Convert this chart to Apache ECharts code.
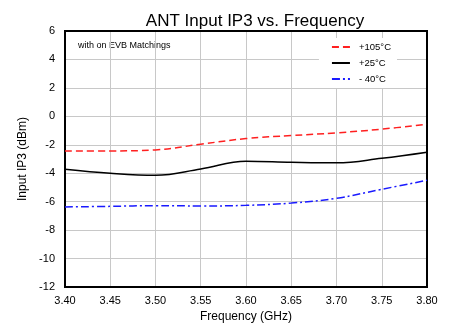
<!DOCTYPE html>
<html lang="en">
<head>
    <meta charset="UTF-8">
    <title>ANT Input IP3 vs. Frequency</title>
    <script type="text/javascript" src="https://cdn.jsdelivr.net/npm/echarts@6/dist/echarts.min.js"></script>
    <style>
        body{
            padding: 0px;
            margin: 0px;
            background-color: #ffffff;
        }
        #chart{
            width: 453px;
            height: 328px;
        }
    </style>
</head>
<body>
    <div id="chart"></div>
    <script>
    // frequency points (GHz)
    var freq = [3.40, 3.45, 3.50, 3.55, 3.60, 3.65, 3.70, 3.75, 3.80];
    // IIP3 (dBm) per temperature
    var iip3_105 = [-2.43, -2.43, -2.36, -1.96, -1.56, -1.35, -1.16, -0.90, -0.55];
    var iip3_25 = [-3.72, -4.00, -4.14, -3.70, -3.16, -3.23, -3.27, -2.95, -2.52];
    var iip3_m40 = [-6.37, -6.33, -6.28, -6.30, -6.26, -6.10, -5.76, -5.13, -4.50];
    var names = ['+105°C', '+25°C', '- 40°C'];

    function pairs(ys) {
        return freq.map(function (f, i) { return [f, ys[i]]; });
    }

    var font = 'Liberation Sans, Arial, sans-serif';
    var chart = echarts.init(document.getElementById('chart'), null, {renderer: 'canvas'});
    chart.setOption({
        animation: false,
        title: {
            text: 'ANT Input IP3 vs. Frequency',
            left: 250, top: 8, textAlign: 'center',
            textStyle: {fontFamily: font, fontSize: 17, fontWeight: 'normal', color: '#000'}
        },
        graphic: [{
            type: 'text', left: 78, top: 41,
            style: {text: 'with on EVB Matchings', font: '9px ' + font, fill: '#000'}
        }],
        legend: {
            orient: 'vertical',
            right: 56, top: 38,
            itemWidth: 18, itemHeight: 8, itemGap: 6,
            backgroundColor: '#fff',
            padding: [4, 6, 4, 12],
            itemStyle: {opacity: 0},
            textStyle: {fontFamily: font, fontSize: 9.5, color: '#000', padding: [0, 0, 0, 4]},
            data: names
        },
        grid: {left: 65, right: 26, top: 31, bottom: 41},
        xAxis: {
            type: 'value', min: 3.40, max: 3.80, interval: 0.05,
            name: 'Frequency (GHz)', nameLocation: 'middle', nameGap: 21,
            nameTextStyle: {fontFamily: font, fontSize: 12, color: '#000'},
            axisLine: {show: false},
            axisTick: {show: false},
            axisLabel: {fontFamily: font, fontSize: 11, color: '#000', margin: 8,
                formatter: function (v) { return v.toFixed(2); }},
            splitLine: {lineStyle: {color: '#c8c8c8', width: 1}}
        },
        yAxis: {
            type: 'value', min: -12, max: 6, interval: 2,
            name: 'Input IP3 (dBm)', nameLocation: 'middle', nameGap: 32,
            nameTextStyle: {fontFamily: font, fontSize: 12, color: '#000'},
            axisLine: {show: false},
            axisTick: {show: false},
            axisLabel: {fontFamily: font, fontSize: 11, color: '#000', margin: 10},
            splitLine: {lineStyle: {color: '#c8c8c8', width: 1}}
        },
        series: [{
            name: names[0], type: 'line', data: pairs(iip3_105), smooth: 0.4,
            symbol: 'none', color: '#ff2020',
            lineStyle: {color: '#ff2020', width: 1.5, type: [7, 4]}
        }, {
            name: names[1], type: 'line', data: pairs(iip3_25), smooth: 0.4,
            symbol: 'none', color: '#000',
            lineStyle: {color: '#000', width: 1.5, type: 'solid'}
        }, {
            name: names[2], type: 'line', data: pairs(iip3_m40), smooth: 0.4,
            symbol: 'none', color: '#1a1aff',
            lineStyle: {color: '#1a1aff', width: 1.5, type: [8, 3, 2, 3]}
        }, {
            // plot frame
            type: 'line', data: [], silent: true,
            markArea: {
                silent: true,
                itemStyle: {color: 'transparent', borderColor: '#000', borderWidth: 2},
                data: [[{coord: [3.40, 6]}, {coord: [3.80, -12]}]]
            }
        }]
    });
    </script>
</body>
</html>
